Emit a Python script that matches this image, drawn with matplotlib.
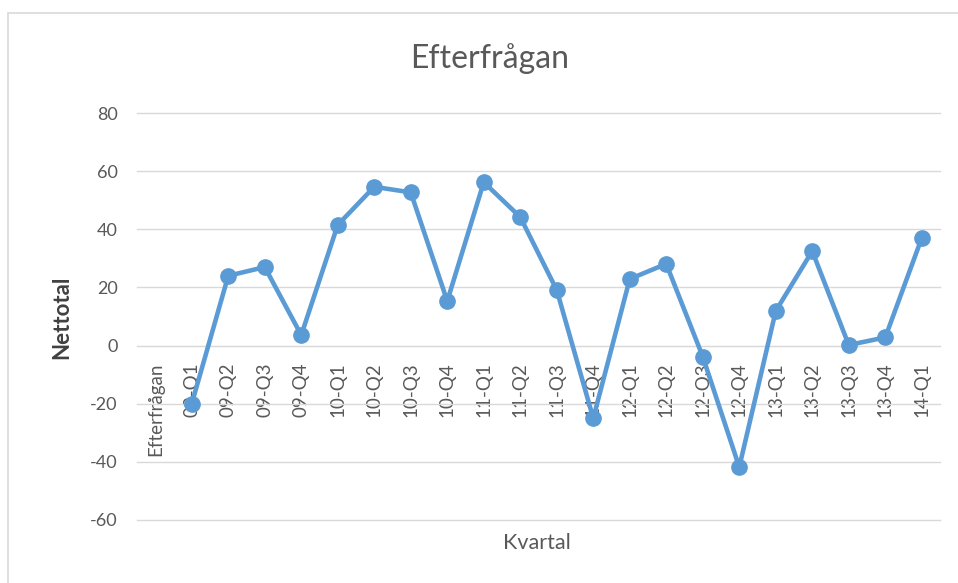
import matplotlib
matplotlib.use("Agg")
import matplotlib.pyplot as plt
import numpy as np
from matplotlib.patches import Rectangle

categories = ["Efterfrågan", "09-Q1", "09-Q2", "09-Q3", "09-Q4", "10-Q1", "10-Q2", "10-Q3",
              "10-Q4", "11-Q1", "11-Q2", "11-Q3", "11-Q4", "12-Q1", "12-Q2", "12-Q3",
              "12-Q4", "13-Q1", "13-Q2", "13-Q3", "13-Q4", "14-Q1"]
values = [np.nan, -20, 24, 27, 3.6, 41.5, 54.6, 52.7, 15.3, 56.2, 44.2, 19.1, -25,
          22.9, 28.1, -3.8, -41.8, 11.9, 32.5, 0.2, 2.8, 37.0]
yticks = [-60, -40, -20, 0, 20, 40, 60, 80]

plt.rcParams['font.family'] = ['Lato', 'DejaVu Sans']
txt = '#595959'

fig = plt.figure(figsize=(9.58, 5.83), dpi=100)
# outer chart frame
fig.patches.append(Rectangle((8/958, -0.1), 1.1, (583-13)/583 + 0.1, transform=fig.transFigure,
                             fill=False, edgecolor='#d9d9d9', linewidth=1.2))

ax = fig.add_axes([137/958, (583-520)/583, (940-137)/958, (520-113)/583])
x = np.arange(len(categories))
ax.plot(x, values, color='#5B9BD5', linewidth=3.3, marker='o', markersize=11,
        solid_capstyle='round', zorder=3, clip_on=False)
ax.set_xlim(-0.5, len(categories) - 0.5)
ax.set_ylim(-60, 80)
ax.set_yticks(yticks)
ax.set_yticklabels([str(v) for v in yticks])
ax.yaxis.grid(True, color='#d9d9d9', linewidth=1)
for gl in ax.get_ygridlines():
    gl.set_clip_on(False)
ax.set_axisbelow(True)
for s in ['left', 'right', 'top']:
    ax.spines[s].set_visible(False)
ax.spines['bottom'].set_position(('data', 0))
ax.spines['bottom'].set_color('#d9d9d9')
ax.set_xticks(x)
ax.set_xticklabels(categories, rotation=90, fontsize=13.5, color=txt)
ax.tick_params(axis='x', length=0, pad=12)
ax.tick_params(axis='y', length=0, pad=14, labelsize=13, labelcolor=txt)

fig.text(537/958, 1 - 543/583, "Kvartal", ha='center', va='center', fontsize=15.5, color=txt)
fig.text(62/958, 1 - 317/583, "Nettotal", ha='center', va='center', rotation=90,
         fontsize=16, color='#404040', fontweight='bold')
fig.text(490/958, 1 - 59/583, "Efterfrågan", ha='center', va='center', fontsize=23, color=txt)

fig.savefig("out.png", dpi=100)
